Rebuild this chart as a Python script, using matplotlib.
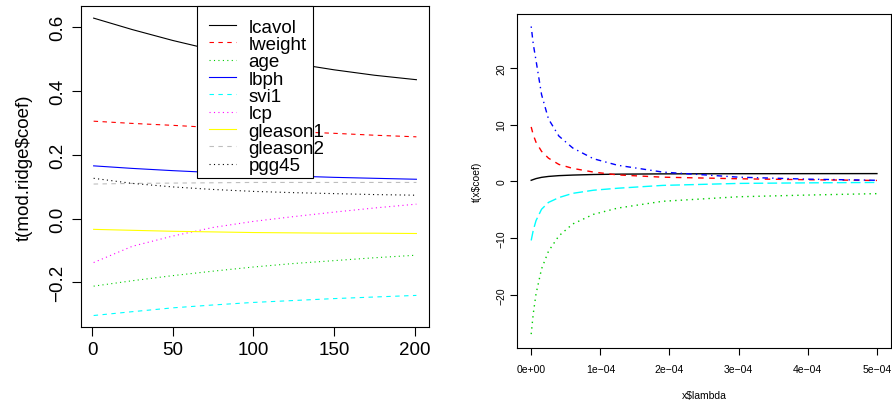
import matplotlib
matplotlib.use('Agg')
import matplotlib.pyplot as plt
from matplotlib.patches import Rectangle

plt.rcParams['font.family'] = ['Liberation Sans', 'DejaVu Sans']

# left panel: ridge coefficient paths
idx = [1, 25, 50, 75, 100, 125, 150, 175, 201]
names = ['lcavol', 'lweight', 'age', 'lbph', 'svi1', 'lcp', 'gleason1', 'gleason2', 'pgg45']
lcavol = [0.628, 0.592, 0.558, 0.528, 0.505, 0.486, 0.466, 0.449, 0.435]
lweight = [0.305, 0.298, 0.292, 0.285, 0.278, 0.272, 0.267, 0.261, 0.256]
age = [-0.212, -0.195, -0.179, -0.165, -0.152, -0.141, -0.132, -0.123, -0.115]
lbph = [0.165, 0.157, 0.150, 0.144, 0.138, 0.133, 0.129, 0.126, 0.123]
svi1 = [-0.304, -0.292, -0.280, -0.271, -0.263, -0.257, -0.251, -0.246, -0.241]
lcp = [-0.138, -0.087, -0.055, -0.028, -0.009, 0.006, 0.020, 0.033, 0.045]
gleason1 = [-0.034, -0.037, -0.040, -0.042, -0.044, -0.045, -0.046, -0.046, -0.047]
gleason2 = [0.108, 0.110, 0.111, 0.112, 0.113, 0.113, 0.113, 0.113, 0.113]
pgg45 = [0.126, 0.110, 0.099, 0.091, 0.085, 0.081, 0.078, 0.075, 0.073]
left_series = [lcavol, lweight, age, lbph, svi1, lcp, gleason1, gleason2, pgg45]

# right panel: coefficients vs lambda
lam = [0, 0.03e-4, 0.07e-4, 0.15e-4, 0.25e-4, 0.4e-4, 0.6e-4, 0.9e-4, 1.25e-4, 1.9e-4, 3e-4, 4e-4, 5e-4]
c1 = [0.2, 0.33, 0.5, 0.72, 0.88, 1.02, 1.12, 1.22, 1.28, 1.33, 1.36, 1.37, 1.38]
c2 = [9.6, 8.2, 6.9, 5.3, 4.1, 3.0, 2.3, 1.65, 1.15, 0.75, 0.47, 0.3, 0.17]
c3 = [-26.9, -23.3, -19.8, -15.4, -12.3, -9.6, -7.5, -5.8, -4.7, -3.5, -2.7, -2.4, -2.15]
c4 = [27.3, 24.2, 21.3, 15.3, 11.0, 8.0, 5.9, 4.0, 2.85, 1.65, 0.75, 0.4, 0.2]
c5 = [-10.4, -8.6, -6.9, -4.9, -3.7, -2.85, -2.1, -1.55, -1.2, -0.7, -0.35, -0.25, -0.18]
right_series = [c1, c2, c3, c4, c5]

r_cols = ['black', '#FF0000', '#00CD00', '#0000FF', '#00FFFF', '#FF00FF', '#FFFF00', '#BEBEBE']
lty = {1: '-', 2: (0, (4, 4)), 3: (0, (1, 3)), 4: (0, (1, 3, 4, 3)), 5: (0, (7, 3))}

fig = plt.figure(figsize=(8.92, 4.02), dpi=100)

# ---- left plot
big = 13.5
ax1 = fig.add_axes([0.0905, 0.1833, 0.3908, 0.7985])
for i, (nm, s) in enumerate(zip(names, left_series)):
    ax1.plot(idx, s, color=r_cols[i % 8], linestyle=lty[i % 3 + 1], lw=0.8, label=nm)
ax1.set_xlim(-7, 209)
ax1.set_ylim(-0.341, 0.665)
ax1.set_xticks([0, 50, 100, 150, 200])
ax1.set_xticklabels(['0', '50', '100', '150', '200'], fontsize=big)
ax1.set_yticks([-0.2, 0.0, 0.2, 0.4, 0.6])
ax1.set_yticklabels(['\u22120.2', '0.0', '0.2', '0.4', '0.6'], fontsize=big, rotation=90, va='center')
ax1.tick_params(length=6.5, width=0.8)
ax1.tick_params(axis='x', pad=3.5)
ax1.tick_params(axis='y', pad=4)
ax1.set_ylabel('t(mod.ridge$coef)', fontsize=big)
ax1.yaxis.set_label_coords(-0.137, 0.5)
for sp in ax1.spines.values():
    sp.set_linewidth(0.8)

# legend: R draws the box a bit narrower than the text, so frame is drawn separately
leg = ax1.legend(loc='upper left', bbox_to_anchor=(0.369, 0.962), borderaxespad=0,
                 borderpad=0, fontsize=big, frameon=False, handlelength=1.41,
                 handletextpad=0.67, labelspacing=0.01)
ax1.add_patch(Rectangle((0.3345, 0.4651), 0.3311, 0.5349, transform=ax1.transAxes,
                        fill=True, facecolor='white', edgecolor='black', lw=0.8, zorder=4,
                        clip_on=False))
leg.set_zorder(5)

# ---- right plot
small = 7.5
ax2 = fig.add_axes([0.580, 0.1311, 0.4186, 0.8316])
for i, s in enumerate(right_series):
    ax2.plot(lam, s, color=r_cols[i], linestyle=lty[i + 1], lw=1.0)
ax2.set_xlim(-0.2e-4, 5.2e-4)
ax2.set_ylim(-29.4, 29.5)
ax2.set_xticks([0, 1e-4, 2e-4, 3e-4, 4e-4, 5e-4])
ax2.set_xticklabels(['0e+00', '1e\u221204', '2e\u221204', '3e\u221204', '4e\u221204', '5e\u221204'], fontsize=small)
ax2.set_yticks([-20, -10, 0, 10, 20])
ax2.set_yticklabels(['\u221220', '\u221210', '0', '10', '20'], fontsize=small, rotation=90, va='center')
ax2.tick_params(length=5, width=0.8)
ax2.tick_params(axis='x', pad=6.5)
ax2.tick_params(axis='y', pad=3)
ax2.set_xlabel('x$lambda', fontsize=small, labelpad=11)
ax2.set_ylabel('t(x$coef)', fontsize=small, labelpad=10)
for sp in ax2.spines.values():
    sp.set_linewidth(0.8)

plt.savefig('out.png', dpi=100)
plt.close()
